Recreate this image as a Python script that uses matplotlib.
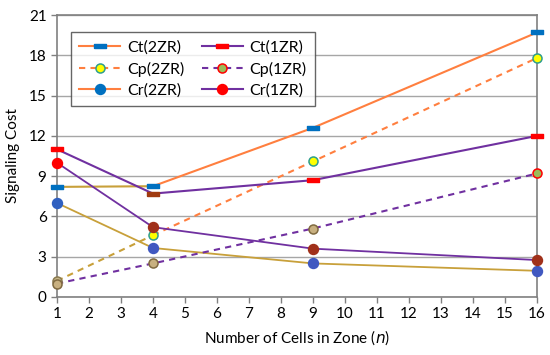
import matplotlib
matplotlib.use("Agg")
import matplotlib.pyplot as plt
from matplotlib.lines import Line2D

n_cells = [1, 4, 9, 16]
ct_2zr = [8.2, 8.25, 12.6, 19.7]
ct_1zr = [11.0, 7.7, 8.7, 12.0]
cp_2zr = [1.2, 4.6, 10.1, 17.8]
cp_1zr = [1.0, 2.5, 5.1, 9.2]
cr_2zr = [7.0, 3.65, 2.5, 1.95]
cr_1zr = [10.0, 5.2, 3.6, 2.75]

x_ticks = list(range(1, 17))
y_ticks = [0, 3, 6, 9, 12, 15, 18, 21]

ORANGE = "#FF7F3F"
GOLD = "#C8A03A"
PURPLE = "#7030A0"
BLUE = "#0070C0"
RED = "#FF0000"

plt.rcParams["font.family"] = ["Lato", "DejaVu Sans"]

fig = plt.figure(figsize=(5.5, 3.55), dpi=100)
ax = fig.add_axes([0.1036, 0.1634, 0.8728, 0.7943])

rect = [(-1, -0.33), (1, -0.33), (1, 0.33), (-1, 0.33), (-1, -0.33)]
RS = 8.5   # rect marker size
CS = 7.2   # filled circle size
PS = 6.5   # Cp circle size


def seg_plot(y, c_first, c_rest, ls):
    # first segment (1 -> 4) drawn in its own colour, like the original
    ax.plot(n_cells[:2], y[:2], color=c_first, lw=1.5, ls=ls, zorder=2)
    ax.plot(n_cells[1:], y[1:], color=c_rest, lw=1.5, ls=ls, zorder=2)


seg_plot(ct_2zr, GOLD, ORANGE, "-")
seg_plot(cp_2zr, GOLD, ORANGE, (0, (3, 2.5)))
ax.plot(n_cells, cr_2zr, color=GOLD, lw=1.3, zorder=2)
ax.plot(n_cells, ct_1zr, color=PURPLE, lw=1.5, zorder=2)
ax.plot(n_cells, cp_1zr, color=PURPLE, lw=1.5, ls=(0, (3, 2.5)), zorder=2)
ax.plot(n_cells, cr_1zr, color=PURPLE, lw=1.3, zorder=2)

# markers, with per-point colours as in the original picture
ct2_c = [BLUE, BLUE, BLUE, BLUE]
ct1_c = [RED, "#A03A10", RED, RED]
cp2_fc = ["#C8B888", "#FFFF00", "#FFFF00", "#FFFF00"]
cp2_ec = ["#8A7A50", "#2E9E8E", "#2E9E8E", "#2E9E8E"]
cp1_fc = ["#C8B080", "#C8B080", "#C8B080", "#9BBB59"]
cp1_ec = ["#806A40", "#806A40", "#806A40", RED]
cr2_c = ["#3060C0", "#4058C0", "#4058C0", "#4058C0"]
cr1_c = [RED, "#A0301A", "#A0301A", "#A0301A"]

for i, x in enumerate(n_cells):
    ax.plot(x, ct_2zr[i], marker=rect, ms=RS, color=ct2_c[i], mec=ct2_c[i], ls="none", zorder=4, clip_on=False)
    ax.plot(x, ct_1zr[i], marker=rect, ms=RS, color=ct1_c[i], mec=ct1_c[i], ls="none", zorder=4, clip_on=False)
    ax.plot(x, cp_2zr[i], marker="o", ms=PS, mfc=cp2_fc[i], mec=cp2_ec[i], mew=1.1, ls="none", zorder=4, clip_on=False)
    ax.plot(x, cp_1zr[i], marker="o", ms=PS, mfc=cp1_fc[i], mec=cp1_ec[i], mew=1.1, ls="none", zorder=4, clip_on=False)
    ax.plot(x, cr_2zr[i], marker="o", ms=CS, color=cr2_c[i], ls="none", zorder=4, clip_on=False)
    ax.plot(x, cr_1zr[i], marker="o", ms=CS, color=cr1_c[i], ls="none", zorder=4, clip_on=False)

ax.set_xlim(1, 16)
ax.set_ylim(0, 21)
ax.set_xticks(x_ticks)
ax.set_yticks(y_ticks)
ax.grid(axis="y", color="#A6A6A6", lw=1.0)
ax.set_axisbelow(True)
for s in ax.spines.values():
    s.set_color("#808080")
    s.set_linewidth(1.2)
ax.tick_params(colors="#808080", labelcolor="black", labelsize=11, length=4, width=1)
ax.set_xlabel("Number of Cells in Zone ($n$)", fontsize=11, labelpad=5)
ax.set_ylabel("Signaling Cost", fontsize=11, labelpad=6)

handles = [
    Line2D([], [], color=ORANGE, lw=1.5, marker=rect, ms=RS, mfc=BLUE, mec=BLUE),
    Line2D([], [], color=ORANGE, lw=1.5, ls=(0, (3, 2.5)), marker="o", ms=PS, mfc="#FFFF00", mec="#2E9E8E", mew=1.1),
    Line2D([], [], color=ORANGE, lw=1.5, marker="o", ms=CS, mfc=BLUE, mec=BLUE),
    Line2D([], [], color=PURPLE, lw=1.5, marker=rect, ms=RS, mfc=RED, mec=RED),
    Line2D([], [], color=PURPLE, lw=1.5, ls=(0, (3, 2.5)), marker="o", ms=PS, mfc="#9BBB59", mec=RED, mew=1.1),
    Line2D([], [], color=PURPLE, lw=1.5, marker="o", ms=CS, mfc=RED, mec=RED),
]
labels = ["Ct(2ZR)", "Cp(2ZR)", "Cr(2ZR)", "Ct(1ZR)", "Cp(1ZR)", "Cr(1ZR)"]
leg = ax.legend(handles, labels, ncol=2, loc="upper left", bbox_to_anchor=(0.029, 0.94),
                borderaxespad=0, fontsize=11.5, frameon=True, fancybox=False, edgecolor="#404040",
                handlelength=2.6, handletextpad=0.4, columnspacing=1.1, labelspacing=0.45, borderpad=0.5)
leg.get_frame().set_linewidth(1.0)

fig.savefig("out.png", dpi=100)
